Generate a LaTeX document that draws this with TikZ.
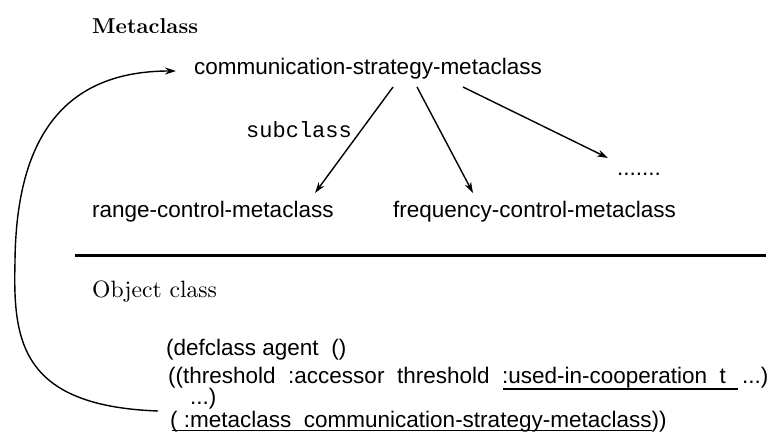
\documentclass[tikz,border=0pt]{standalone}
\usepackage{fontspec}
\newfontfamily\sansf{Liberation Sans}
\newfontfamily\monof{Liberation Mono}
\usetikzlibrary{arrows.meta}
\begin{document}
\begin{tikzpicture}[x=1pt,y=-1pt,
  sanstext/.style={inner sep=0pt,anchor=base west,font=\sansf\fontsize{22.5}{27}\selectfont},
  headtext/.style={inner sep=0pt,anchor=base west},
  subarrow/.style={line width=1.4pt,-{Stealth[length=11pt,width=7pt]}},
  backarrow/.style={line width=1.4pt,-{Stealth[length=11pt,width=7pt]}}]
\useasboundingbox (0,0) rectangle (780,437);
\fill[white] (0,0) rectangle (780,437);
% headings
\node[headtext] (meta) at (92,33) {\scalebox{2.15}{\bfseries Metaclass}};
\node[headtext] (obj) at (92,297) {\scalebox{2.36}{Object class}};
% metaclass tree
\node[sanstext] (csm) at (194,74) {communication-strategy-metaclass};
\node[sanstext] (rcm) at (92,217) {range-control-metaclass};
\node[sanstext] (fcm) at (393,217) {frequency-control-metaclass};
\node[sanstext] (dots) at (617,175) {.......};
\node[inner sep=0pt,anchor=base west,font=\monof\fontsize{22}{26}\selectfont] (sub) at (246,137) {subclass};
\coordinate (s1) at (393,87);
\coordinate (s2) at (417,87);
\coordinate (s3) at (463,87);
\coordinate (t1) at (315,193);
\coordinate (t2) at (473,193);
\coordinate (t3) at (608,158);
\draw[subarrow] (s1) -- (t1);
\draw[subarrow] (s2) -- (t2);
\draw[subarrow] (s3) -- (t3);
% separator
\coordinate (r1) at (75,255);
\coordinate (r2) at (766,255);
\draw[line width=3pt] (r1) -- (r2);
% code
\node[sanstext] (l1) at (166,355) {(defclass agent\ \ ()};
\node[sanstext] (l2) at (168,383) {((threshold\ \ :accessor\ \ threshold\ \ :used-in-cooperation\ \ t\ \ \,...)};
\node[sanstext] (l3) at (190,404) {...)};
\node[sanstext] (l4) at (170,427) {(\ :metaclass\ \ communication-strategy-metaclass))};
\coordinate (u1) at (503,389);
\coordinate (u2) at (738,389);
\draw[line width=1.6pt] (u1) -- (u2);
\draw[line width=0.7pt] ([xshift=2pt,yshift=-3pt]l4.base west) -- ([xshift=-15pt,yshift=-3pt]l4.base east);
% back arrow
\coordinate (b0) at (158,411);
\coordinate (b1) at (15,262);
\coordinate (b2) at (176,71);
\draw[backarrow] (b0) .. controls (20,406) and (13,340) .. (b1) .. controls (16,130) and (70,71) .. (b2);
\end{tikzpicture}
\end{document}
